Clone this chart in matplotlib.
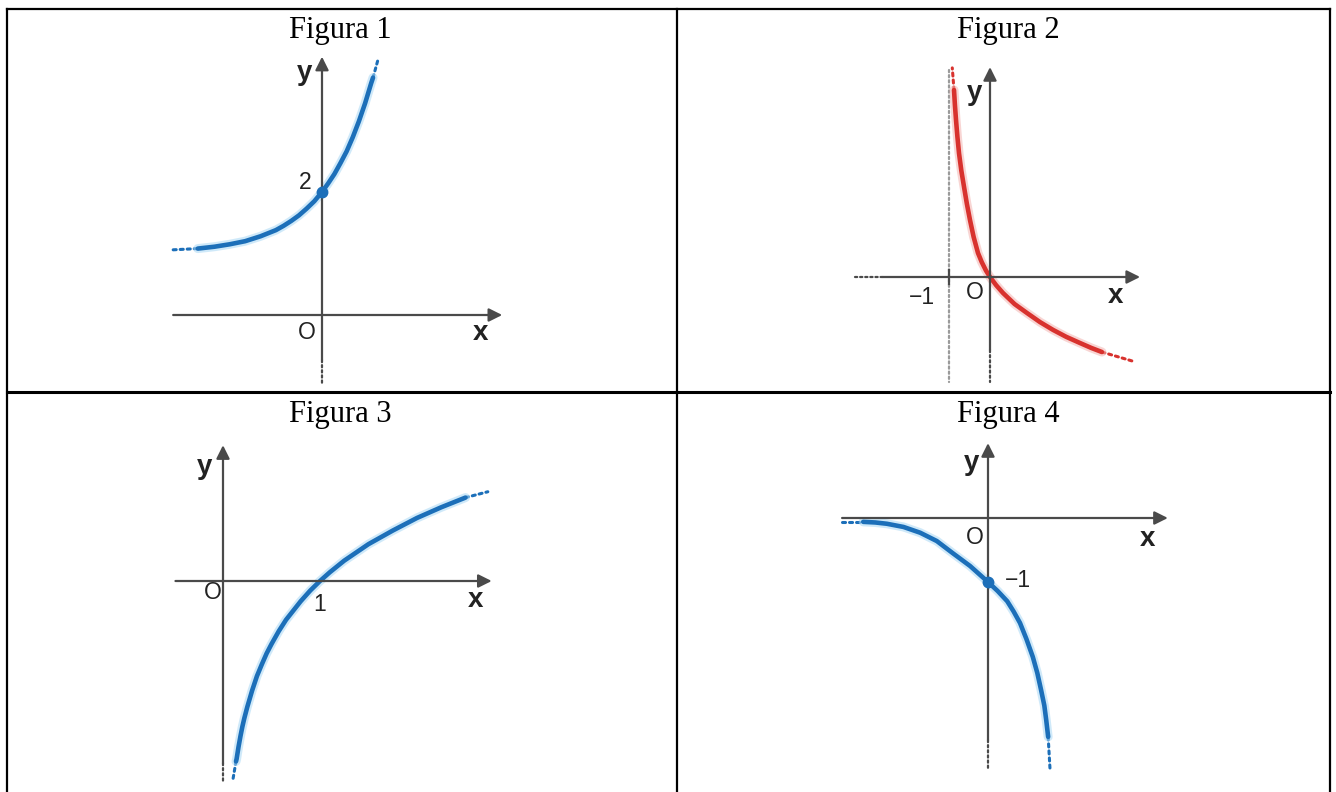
import matplotlib
matplotlib.use("Agg")
import matplotlib.pyplot as plt
from matplotlib.lines import Line2D

# ---------------- data ----------------
titles = ["Figura 1", "Figura 2", "Figura 3", "Figura 4"]

# Figura 1 : exponential-like curve with asymptote y ~ 1, passing (0, 2)
fig1_x = [-2.02, -1.75, -1.5, -1.25, -1.0, -0.875, -0.75, -0.625, -0.5, -0.375, -0.25, -0.125,
          0.0, 0.1, 0.2, 0.3, 0.4, 0.5, 0.6, 0.7, 0.8, 0.83]
fig1_y = [1.08, 1.11, 1.15, 1.20, 1.28, 1.33, 1.38, 1.45, 1.53, 1.62, 1.73, 1.85,
          2.0, 2.14, 2.29, 2.47, 2.66, 2.89, 3.15, 3.44, 3.77, 3.86]
fig1_tail_left_x = [-2.42, -2.02]
fig1_tail_left_y = [1.06, 1.08]
fig1_tail_top_x = [0.83, 0.91]
fig1_tail_top_y = [3.86, 4.15]

# Figura 2 : decreasing curve, asymptote x = -1, through origin
fig2_x = [-0.878, -0.856, -0.829, -0.795, -0.756, -0.70, -0.634, -0.565, -0.488, -0.40, -0.293,
          -0.20, -0.10, 0.0, 0.15, 0.317, 0.60, 0.902, 1.22, 1.537, 1.86, 2.195, 2.47, 2.73]
fig2_y = [4.56, 4.20, 3.83, 3.42, 3.02, 2.60, 2.20, 1.79, 1.39, 0.98, 0.585,
          0.36, 0.16, 0.0, -0.20, -0.39, -0.66, -0.878, -1.10, -1.29, -1.46, -1.61, -1.73, -1.83]
fig2_tail_top_x = [-0.878, -0.92]
fig2_tail_top_y = [4.56, 5.10]
fig2_tail_right_x = [2.73, 3.54]
fig2_tail_right_y = [-1.83, -2.07]

# Figura 3 : logarithm-like curve through (1, 0)
fig3_x = [0.134, 0.14, 0.16, 0.18, 0.2, 0.22, 0.25, 0.3, 0.35, 0.4, 0.45, 0.5, 0.575, 0.65, 0.8, 0.9,
          1.0, 1.1, 1.25, 1.5, 1.75, 2.0, 2.25, 2.5]
fig3_y = [-1.86, -1.836, -1.71, -1.60, -1.50, -1.414, -1.30, -1.13, -0.98, -0.86, -0.746, -0.65,
          -0.517, -0.40, -0.21, -0.098, 0.0, 0.089, 0.21, 0.38, 0.52, 0.65, 0.76, 0.86]
fig3_tail_bottom_x = [0.134, 0.10]
fig3_tail_bottom_y = [-1.86, -2.06]
fig3_tail_right_x = [2.5, 2.73]
fig3_tail_right_y = [0.86, 0.92]

# Figura 4 : decreasing curve with asymptote y = 0 on the left, through (0, -1)
fig4_x = [-1.95, -1.76, -1.58, -1.32, -1.06, -0.80, -0.55, -0.28, 0.0, 0.15, 0.30, 0.40, 0.50,
          0.60, 0.70, 0.77, 0.83, 0.88, 0.91, 0.94]
fig4_y = [-0.06, -0.07, -0.09, -0.14, -0.23, -0.36, -0.55, -0.75, -1.0, -1.14, -1.30, -1.46, -1.64,
          -1.89, -2.17, -2.42, -2.69, -2.93, -3.16, -3.42]
fig4_tail_left_x = [-2.28, -1.95]
fig4_tail_left_y = [-0.06, -0.06]
fig4_tail_bottom_x = [0.94, 0.97]
fig4_tail_bottom_y = [-3.42, -3.94]

# ---------------- figure ----------------
W, H = 1336, 792
fig = plt.figure(figsize=(W / 100, H / 100), dpi=100)
fig.patch.set_facecolor("white")

def fx(px):
    return px / W

def fy(py):
    return 1 - py / H

# table lines
for (x0, y0, x1, y1, lw) in [
    (6.5, 8.5, 1330, 8.5, 1.6),
    (6.5, 8.5, 6.5, 800, 1.6),
    (677, 8.5, 677, 800, 1.6),
    (1330, 8.5, 1330, 800, 1.6),
    (6.5, 391.5, 1330, 391.5, 2.2),
]:
    fig.add_artist(Line2D([fx(x0), fx(x1)], [fy(y0), fy(y1)], color="black",
                          lw=lw, transform=fig.transFigure, solid_capstyle="projecting"))

# titles
for t, (px, py) in zip(titles, [(340, 38), (1008, 38), (340, 422), (1008, 422)]):
    fig.text(fx(px), fy(py), t, family="Liberation Serif", fontsize=22,
             ha="center", va="baseline", color="black")

AX_C = "#4a4a4a"
BLUE = "#1c6fb9"
BLUE_HALO = "#a9d8f5"
RED = "#d8322e"
RED_HALO = "#f3b3b0"
DOT = (0, (1, 1.3))


def panel(box, origin, scale):
    L, T, R, B = box
    ox, oy = origin
    ax = fig.add_axes([fx(L), fy(B), (R - L) / W, (B - T) / H])
    ax.set_xlim((L - ox) / scale, (R - ox) / scale)
    ax.set_ylim((oy - B) / scale, (oy - T) / scale)
    ax.axis("off")
    return ax


def arrow(ax, start, tip):
    ax.annotate("", xy=tip, xytext=start,
                arrowprops=dict(arrowstyle="-|>", color=AX_C, lw=1.6,
                                mutation_scale=20, shrinkA=0, shrinkB=0),
                annotation_clip=False)


def dotted(ax, xs, ys, color, lw=2.2):
    ax.plot(xs, ys, color=color, lw=lw, linestyle=DOT, solid_capstyle="round",
            dash_capstyle="round", clip_on=False)


def curve(ax, xs, ys, color, halo):
    ax.plot(xs, ys, color=halo, lw=6.5, alpha=0.55, solid_capstyle="round",
            solid_joinstyle="round", clip_on=False)
    ax.plot(xs, ys, color=color, lw=3.3, solid_capstyle="round",
            solid_joinstyle="round", clip_on=False)


def label(ax, x, y, s, bold=False, ha="center"):
    ax.text(x, y, s, family="Liberation Sans", fontsize=20 if bold else 16.5,
            fontweight="bold" if bold else "normal", ha=ha, va="center",
            color="#222222")

# ---- Figura 1 ----
ax1 = panel((8, 45, 676, 390), (322, 315), 61.5)
arrow(ax1, (-2.42, 0), (2.93, 0))
arrow(ax1, (0, -0.73), (0, 4.2))
dotted(ax1, [0, 0], [-0.73, -1.1], AX_C, lw=1.6)
dotted(ax1, fig1_tail_left_x, fig1_tail_left_y, BLUE)
dotted(ax1, fig1_tail_top_x, fig1_tail_top_y, BLUE)
curve(ax1, fig1_x, fig1_y, BLUE, BLUE_HALO)
ax1.plot([0], [2], "o", color=BLUE, ms=7.5, zorder=5)
label(ax1, -0.28, 3.93, "y", bold=True)
label(ax1, -0.27, 2.15, "2")
label(ax1, -0.24, -0.28, "O")
label(ax1, 2.57, -0.3, "x", bold=True)

# ---- Figura 2 ----
ax2 = panel((678, 45, 1329, 390), (990, 277), 41)
arrow(ax2, (-2.61, 0), (3.66, 0))
dotted(ax2, [-3.29, -2.61], [0, 0], AX_C, lw=1.6)
arrow(ax2, (0, -1.78), (0, 5.12))
dotted(ax2, [0, 0], [-1.78, -2.56], AX_C, lw=1.6)
dotted(ax2, [-1, -1], [5.05, -2.56], "#9a9a9a", lw=1.6)
ax2.plot([-1, -1], [0.16, -0.16], color=AX_C, lw=1.6)
dotted(ax2, fig2_tail_top_x, fig2_tail_top_y, RED)
dotted(ax2, fig2_tail_right_x, fig2_tail_right_y, RED)
curve(ax2, fig2_x, fig2_y, RED, RED_HALO)
label(ax2, -0.37, 4.5, "y", bold=True)
label(ax2, -1.66, -0.51, "\u22121")
label(ax2, -0.37, -0.39, "O")
label(ax2, 3.05, -0.46, "x", bold=True)

# ---- Figura 3 ----
ax3 = panel((8, 430, 676, 792), (223, 581), 97)
arrow(ax3, (-0.49, 0), (2.77, 0))
arrow(ax3, (0, -1.88), (0, 1.40))
dotted(ax3, [0, 0], [-1.88, -2.06], AX_C, lw=1.6)
dotted(ax3, fig3_tail_bottom_x, fig3_tail_bottom_y, BLUE)
dotted(ax3, fig3_tail_right_x, fig3_tail_right_y, BLUE)
curve(ax3, fig3_x, fig3_y, BLUE, BLUE_HALO)
label(ax3, -0.19, 1.18, "y", bold=True)
label(ax3, -0.11, -0.12, "O")
label(ax3, 1.0, -0.24, "1")
label(ax3, 2.6, -0.2, "x", bold=True)

# ---- Figura 4 ----
ax4 = panel((678, 430, 1329, 792), (988, 518), 64)
arrow(ax4, (-2.28, 0), (2.81, 0))
arrow(ax4, (0, -3.47), (0, 1.17))
dotted(ax4, [0, 0], [-3.47, -3.94], AX_C, lw=1.6)
dotted(ax4, fig4_tail_left_x, fig4_tail_left_y, BLUE)
dotted(ax4, fig4_tail_bottom_x, fig4_tail_bottom_y, BLUE)
curve(ax4, fig4_x, fig4_y, BLUE, BLUE_HALO)
ax4.plot([0], [-1], "o", color=BLUE, ms=7.5, zorder=5)
label(ax4, -0.25, 0.86, "y", bold=True)
label(ax4, -0.2, -0.3, "O")
label(ax4, 0.27, -0.97, "\u22121", ha="left")
label(ax4, 2.5, -0.33, "x", bold=True)

fig.savefig("out.png", dpi=100, facecolor="white")
